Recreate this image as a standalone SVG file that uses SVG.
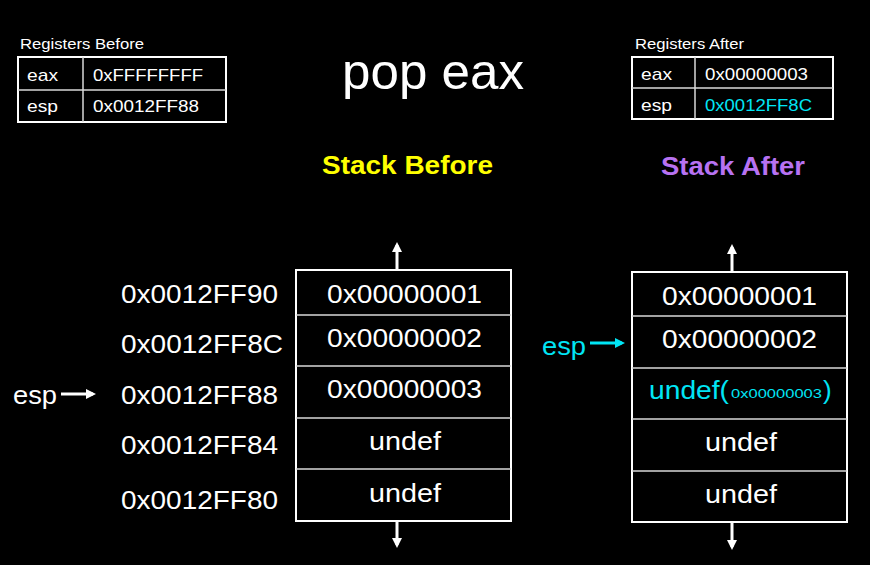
<svg xmlns="http://www.w3.org/2000/svg" width="870" height="565" viewBox="0 0 870 565">
<defs>
<marker id="ahw" viewBox="0 0 10 10" refX="7" refY="5" markerWidth="10" markerHeight="10" markerUnits="userSpaceOnUse" orient="auto">
<path d="M0,0 L10,5 L0,10 z" fill="#ffffff"/>
</marker>
<marker id="ahc" viewBox="0 0 10 10" refX="7" refY="5" markerWidth="10" markerHeight="10" markerUnits="userSpaceOnUse" orient="auto">
<path d="M0,0 L10,5 L0,10 z" fill="#00e5f5"/>
</marker>
</defs>
<style>
text { font-family: "Liberation Sans", Arial, sans-serif; fill: #ffffff; }
.big { font-size: 26px; }
.mid { font-size: 17px; }
.sm { font-size: 15px; }
.cy { fill: #00e5f5; }
.box { fill: #000000; stroke: #ffffff; stroke-width: 2; }
.div { stroke: #d8d8d8; stroke-width: 1.5; }
.arr { stroke: #ffffff; stroke-width: 3; fill: none; }
</style>
<rect x="0" y="0" width="870" height="565" fill="#000000"/>

<g id="title">
<text x="342" y="89" font-size="50" textLength="182" lengthAdjust="spacingAndGlyphs">pop eax</text>
</g>

<g id="regs-before">
<text class="sm" x="20" y="49" textLength="124" lengthAdjust="spacingAndGlyphs">Registers Before</text>
<rect class="box" x="18" y="57" width="208" height="65"/>
<line class="div" x1="18" y1="90" x2="226" y2="90"/>
<line class="div" x1="83" y1="57" x2="83" y2="122"/>
<text class="mid" x="27" y="81" textLength="31" lengthAdjust="spacingAndGlyphs">eax</text>
<text class="mid" x="93" y="81" textLength="110" lengthAdjust="spacingAndGlyphs">0xFFFFFFFF</text>
<text class="mid" x="27" y="112" textLength="31" lengthAdjust="spacingAndGlyphs">esp</text>
<text class="mid" x="93" y="112" textLength="106" lengthAdjust="spacingAndGlyphs">0x0012FF88</text>
</g>

<g id="regs-after">
<text class="sm" x="635" y="49" textLength="109" lengthAdjust="spacingAndGlyphs">Registers After</text>
<rect class="box" x="632" y="57" width="201" height="62"/>
<line class="div" x1="632" y1="88" x2="833" y2="88"/>
<line class="div" x1="695" y1="57" x2="695" y2="119"/>
<text class="mid" x="641" y="80" textLength="31" lengthAdjust="spacingAndGlyphs">eax</text>
<text class="mid" x="705" y="80" textLength="103" lengthAdjust="spacingAndGlyphs">0x00000003</text>
<text class="mid" x="641" y="111" textLength="31" lengthAdjust="spacingAndGlyphs">esp</text>
<text class="mid cy" x="705" y="111" textLength="107" lengthAdjust="spacingAndGlyphs">0x0012FF8C</text>
</g>

<g id="head-before">
<text x="322" y="174" font-size="26" font-weight="bold" style="fill:#ffff00" textLength="171" lengthAdjust="spacingAndGlyphs">Stack Before</text>
</g>
<g id="head-after">
<text x="661" y="175" font-size="26" font-weight="bold" style="fill:#b772f2" textLength="144" lengthAdjust="spacingAndGlyphs">Stack After</text>
</g>

<g id="addresses">
<text class="big" x="121" y="303" textLength="157" lengthAdjust="spacingAndGlyphs">0x0012FF90</text>
<text class="big" x="121" y="353" textLength="162" lengthAdjust="spacingAndGlyphs">0x0012FF8C</text>
<text class="big" x="121" y="404" textLength="157" lengthAdjust="spacingAndGlyphs">0x0012FF88</text>
<text class="big" x="121" y="454" textLength="157" lengthAdjust="spacingAndGlyphs">0x0012FF84</text>
<text class="big" x="121" y="509" textLength="157" lengthAdjust="spacingAndGlyphs">0x0012FF80</text>
</g>

<g id="esp-before">
<text class="big" x="13" y="404" textLength="44" lengthAdjust="spacingAndGlyphs">esp</text>
</g>

<g id="stack-before">
<rect class="box" x="296" y="270" width="215" height="251"/>
<line class="div" x1="296" y1="315" x2="511" y2="315"/>
<line class="div" x1="296" y1="366" x2="511" y2="366"/>
<line class="div" x1="296" y1="418" x2="511" y2="418"/>
<line class="div" x1="296" y1="469" x2="511" y2="469"/>
<text class="big" x="327" y="303" textLength="155" lengthAdjust="spacingAndGlyphs">0x00000001</text>
<text class="big" x="327" y="347" textLength="155" lengthAdjust="spacingAndGlyphs">0x00000002</text>
<text class="big" x="327" y="398" textLength="155" lengthAdjust="spacingAndGlyphs">0x00000003</text>
<text class="big" x="369" y="450" textLength="72" lengthAdjust="spacingAndGlyphs">undef</text>
<text class="big" x="369" y="502" textLength="72" lengthAdjust="spacingAndGlyphs">undef</text>
</g>

<g id="esp-after">
<text class="big cy" x="542" y="355" textLength="44" lengthAdjust="spacingAndGlyphs">esp</text>
</g>

<g id="stack-after">
<rect class="box" x="632" y="272" width="215" height="250"/>
<line class="div" x1="632" y1="316" x2="847" y2="316"/>
<line class="div" x1="632" y1="368" x2="847" y2="368"/>
<line class="div" x1="632" y1="419" x2="847" y2="419"/>
<line class="div" x1="632" y1="471" x2="847" y2="471"/>
<text class="big" x="662" y="305" textLength="155" lengthAdjust="spacingAndGlyphs">0x00000001</text>
<text class="big" x="662" y="348" textLength="155" lengthAdjust="spacingAndGlyphs">0x00000002</text>
<text class="big cy" x="649" y="399"><tspan textLength="80" lengthAdjust="spacingAndGlyphs">undef(</tspan><tspan x="731" font-size="13" y="398" textLength="91" lengthAdjust="spacingAndGlyphs">0x00000003</tspan><tspan x="823" y="399">)</tspan></text>
<text class="big" x="705" y="451" textLength="72" lengthAdjust="spacingAndGlyphs">undef</text>
<text class="big" x="705" y="503" textLength="72" lengthAdjust="spacingAndGlyphs">undef</text>
</g>

<g id="connectors">
<line class="arr" x1="397" y1="270" x2="397" y2="245" marker-end="url(#ahw)"/>
<line class="arr" x1="397" y1="521" x2="397" y2="545" marker-end="url(#ahw)"/>
<line class="arr" x1="732" y1="272" x2="732" y2="247" marker-end="url(#ahw)"/>
<line class="arr" x1="732" y1="522" x2="732" y2="547" marker-end="url(#ahw)"/>
<line class="arr" x1="61" y1="394" x2="93" y2="394" marker-end="url(#ahw)"/>
<line class="arr" x1="590" y1="343" x2="622" y2="343" style="stroke:#00e5f5" marker-end="url(#ahc)"/>
</g>
</svg>
